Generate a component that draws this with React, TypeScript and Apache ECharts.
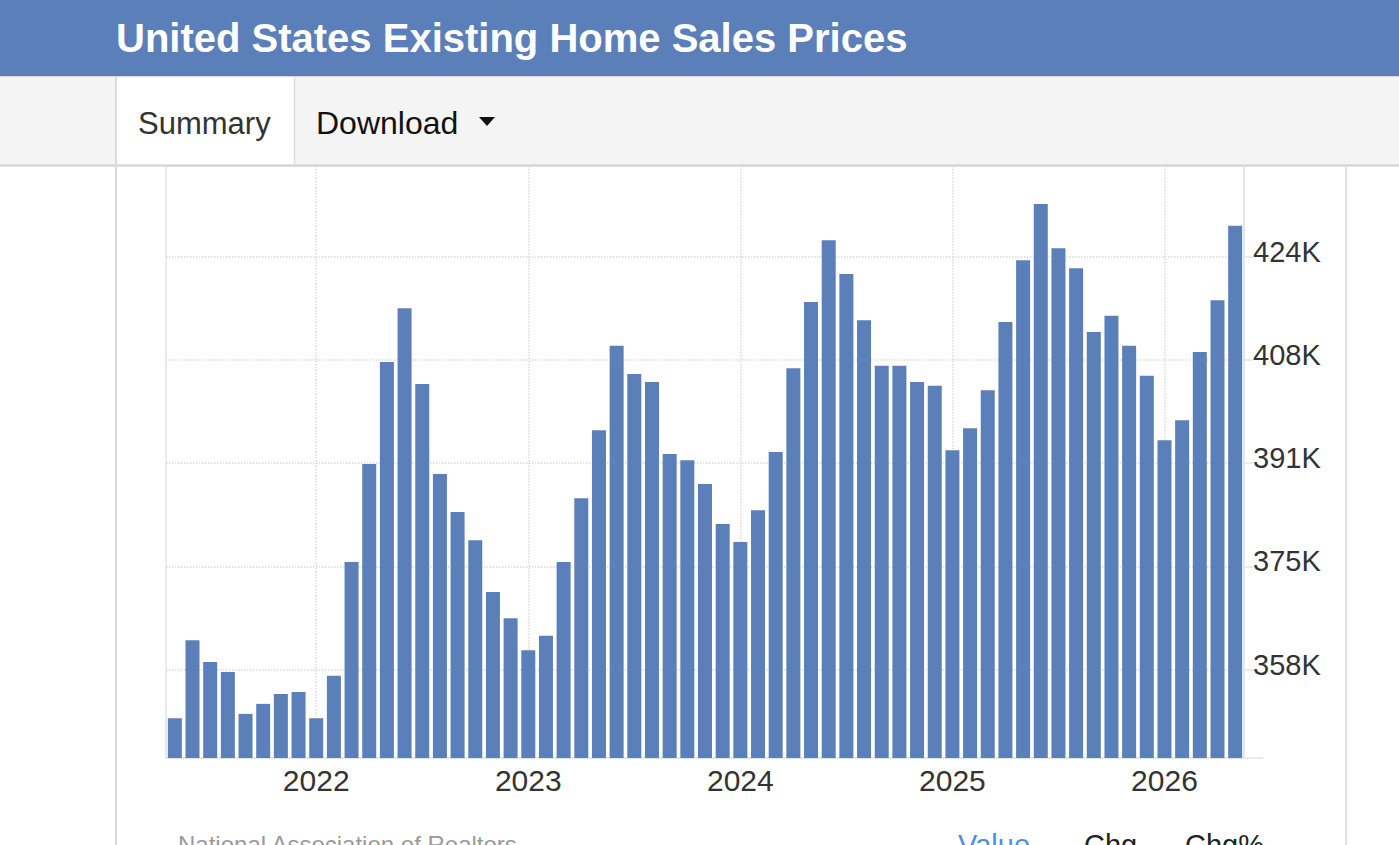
import React, { useEffect, useRef } from "react";
import * as echarts from "echarts";

// Monthly median existing-home sales price, thousands of USD
const months: string[] = [
  "2021-05", "2021-06", "2021-07", "2021-08", "2021-09", "2021-10", "2021-11", "2021-12",
  "2022-01", "2022-02", "2022-03", "2022-04", "2022-05", "2022-06", "2022-07", "2022-08",
  "2022-09", "2022-10", "2022-11", "2022-12",
  "2023-01", "2023-02", "2023-03", "2023-04", "2023-05", "2023-06", "2023-07", "2023-08",
  "2023-09", "2023-10", "2023-11", "2023-12",
  "2024-01", "2024-02", "2024-03", "2024-04", "2024-05", "2024-06", "2024-07", "2024-08",
  "2024-09", "2024-10", "2024-11", "2024-12",
  "2025-01", "2025-02", "2025-03", "2025-04", "2025-05", "2025-06", "2025-07", "2025-08",
  "2025-09", "2025-10", "2025-11", "2025-12",
  "2026-01", "2026-02", "2026-03", "2026-04", "2026-05",
];

const prices: number[] = [
  350.3, 362.8, 359.3, 357.7, 351.0, 352.6, 354.2, 354.5,
  350.3, 357.1, 375.3, 391.0, 407.3, 415.9, 403.8, 389.4,
  383.3, 378.8, 370.5, 366.3,
  361.2, 363.5, 375.3, 385.5, 396.4, 409.9, 405.4, 404.1,
  392.6, 391.6, 387.8, 381.4,
  378.5, 383.6, 392.9, 406.3, 416.9, 426.8, 421.4, 414.0,
  406.7, 406.7, 404.1, 403.5,
  393.2, 396.7, 402.8, 413.7, 423.6, 432.6, 425.5, 422.3,
  412.1, 414.7, 409.9, 405.1,
  394.8, 398.0, 408.9, 417.2, 429.1,
];

// Price axis ticks (thousands), shown rounded with a K suffix
const priceTicks: number[] = [358.1, 374.6, 391.1, 407.6, 424.1];
const priceMin = 343.94;
const priceMax = 438.66;

const FONT = 'Helvetica, Arial, "Liberation Sans", sans-serif';
const BLUE = "#5b7fb8";
const isJanuary = (_i: number, v: string) => String(v).endsWith("-01");

export default function App() {
  const ref = useRef<HTMLDivElement>(null);

  useEffect(() => {
    if (!ref.current) return;
    const chart = echarts.init(ref.current, undefined, { renderer: "svg" });
    chart.setOption({
      animation: false,
      backgroundColor: "#ffffff",
      grid: {
        left: 166,
        right: 155,
        top: 166,
        bottom: 87,
        show: true,
        borderColor: "#e4e4e4",
        borderWidth: 1.5,
      },
      xAxis: {
        type: "category",
        data: months,
        boundaryGap: true,
        axisLine: { show: true, lineStyle: { color: "#e1e5ec", width: 1.5 } },
        axisTick: { show: false },
        axisLabel: {
          interval: isJanuary,
          formatter: (v: string) => v.slice(0, 4),
          color: "#333333",
          fontFamily: FONT,
          fontSize: 30,
          margin: 7,
        },
        splitLine: {
          show: true,
          interval: isJanuary,
          alignWithLabel: true,
          lineStyle: { color: "#dadada", type: "dotted", width: 1.5 },
        },
      },
      yAxis: {
        type: "value",
        position: "right",
        min: priceMin,
        max: priceMax,
        axisLine: { show: true, lineStyle: { color: "#e4e4e4", width: 1.5 } },
        axisTick: {
          show: true,
          customValues: priceTicks,
          length: 9,
          lineStyle: { color: "#e4e4e4", width: 1.5 },
        },
        axisLabel: {
          customValues: priceTicks,
          formatter: (v: number) => `${Math.round(v)}K`,
          color: "#333333",
          fontFamily: FONT,
          fontSize: 29,
          margin: 9,
          verticalAlign: "bottom",
          lineHeight: 10,
        },
        splitLine: {
          show: true,
          lineStyle: { color: "#dadada", type: "dotted", width: 1.5 },
        },
      },
      series: [
        {
          type: "bar",
          data: prices,
          barWidth: 14,
          itemStyle: { color: BLUE },
        },
      ],
      graphic: [
        { type: "rect", shape: { x: 0, y: 0, width: 1399, height: 76 }, style: { fill: BLUE } },
        {
          type: "text",
          x: 116,
          y: 38,
          style: {
            text: "United States Existing Home Sales Prices",
            fill: "#ffffff",
            fontFamily: FONT,
            fontWeight: "bold",
            fontSize: 40,
            verticalAlign: "middle",
            align: "left",
          },
        },
        { type: "rect", shape: { x: 0, y: 76, width: 1399, height: 90 }, style: { fill: "#f4f4f4" } },
        { type: "line", shape: { x1: 0, y1: 76.5, x2: 1399, y2: 76.5 }, style: { stroke: "#d6d6d6", lineWidth: 1 } },
        { type: "rect", shape: { x: 117, y: 77, width: 177, height: 88 }, style: { fill: "#ffffff" } },
        { type: "line", shape: { x1: 0, y1: 165.5, x2: 1399, y2: 165.5 }, style: { stroke: "#d2d2d2", lineWidth: 2 } },
        { type: "line", shape: { x1: 116, y1: 77, x2: 116, y2: 845 }, style: { stroke: "#dcdcdc", lineWidth: 2 } },
        { type: "line", shape: { x1: 294.5, y1: 77, x2: 294.5, y2: 165 }, style: { stroke: "#dcdcdc", lineWidth: 1.5 } },
        { type: "line", shape: { x1: 1346, y1: 166, x2: 1346, y2: 845 }, style: { stroke: "#e2e2e2", lineWidth: 2 } },
        {
          type: "text",
          x: 138,
          y: 123,
          style: { text: "Summary", fill: "#333333", fontFamily: FONT, fontSize: 31, verticalAlign: "middle" },
        },
        {
          type: "text",
          x: 316,
          y: 123,
          style: { text: "Download", fill: "#111111", fontFamily: FONT, fontSize: 32, verticalAlign: "middle" },
        },
        {
          type: "polygon",
          shape: { points: [[479, 117], [495, 117], [487, 126]] },
          style: { fill: "#111111" },
        },
        { type: "line", shape: { x1: 1244, y1: 758, x2: 1263, y2: 758 }, style: { stroke: "#e1e5ec", lineWidth: 1.5 } },
        {
          type: "text",
          x: 178,
          y: 832,
          style: { text: "National Association of Realtors", fill: "#9a9a9a", fontFamily: FONT, fontSize: 24, verticalAlign: "top" },
        },
        {
          type: "text",
          x: 958,
          y: 830,
          style: { text: "Value", fill: "#4a90e2", fontFamily: FONT, fontSize: 29, verticalAlign: "top" },
        },
        {
          type: "text",
          x: 1084,
          y: 830,
          style: { text: "Chg", fill: "#222222", fontFamily: FONT, fontSize: 29, verticalAlign: "top" },
        },
        {
          type: "text",
          x: 1185,
          y: 830,
          style: { text: "Chg%", fill: "#222222", fontFamily: FONT, fontSize: 29, verticalAlign: "top" },
        },
      ],
    });
    return () => chart.dispose();
  }, []);

  return (
    <div
      ref={ref}
      style={{ position: "absolute", left: 0, top: 0, width: 1399, height: 845 }}
    />
  );
}
